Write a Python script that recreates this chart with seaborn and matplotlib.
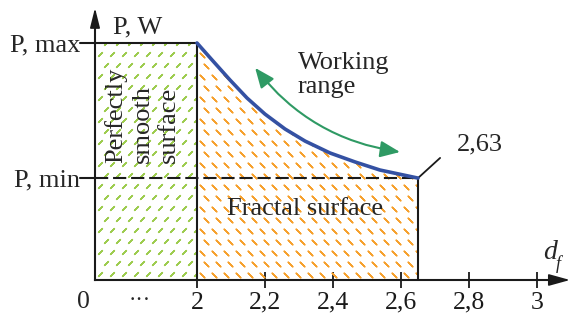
import matplotlib.pyplot as plt
import seaborn as sns
import numpy as np
from matplotlib.patches import Rectangle

# values (P normalised so that P max = 1)
df_curve = [2.000, 2.047, 2.097, 2.147, 2.200, 2.259, 2.318, 2.391, 2.465, 2.538, 2.650]
p_curve = [1.000, 0.924, 0.844, 0.768, 0.700, 0.637, 0.586, 0.536, 0.498, 0.464, 0.430]
p_max = 1.0
p_min = 0.43
df_origin = 1.7      # where the broken axis starts ("0 ... 2")
df_smooth = 2.0
df_limit = 2.65
tick_values = [2, 2.2, 2.4, 2.6, 2.8, 3]
tick_labels = ['2', '2,2', '2,4', '2,6', '2,8', '3']

sns.set_theme(style='white')
plt.rcParams['font.family'] = ['Liberation Serif', 'DejaVu Serif']
plt.rcParams['lines.scale_dashes'] = False

fig = plt.figure(figsize=(5.71, 3.15), dpi=100)
ax = fig.add_axes([0, 0, 1, 1])
ax.set_xlim(1.4206, 3.1)
ax.set_ylim(-0.1477, 1.1814)

# green dashed texture: perfectly smooth surface
green_region = Rectangle((df_origin, 0), df_smooth - df_origin, p_max,
                         fill=False, lw=0)
ax.add_patch(green_region)
gx, gy = np.meshgrid(np.arange(df_origin + 0.015, df_smooth, 0.0353),
                     np.arange(0.025, p_max, 0.0464))
gx[1::2] += 0.0176
green = ax.scatter(gx.ravel(), gy.ravel(), marker=(2, 2, -45), s=16,
                   linewidths=1.0, color='#9dcc4e', zorder=1)
green.set_clip_path(green_region)

# orange dashed texture: fractal surface (under the curve)
fill = ax.fill_between(df_curve, p_curve, 0, color='none', lw=0)
ox, oy = np.meshgrid(np.arange(df_smooth + 0.014, df_limit + 0.01, 0.0353),
                     np.arange(0.02, p_max, 0.0464))
ox[1::2] += 0.012
orange = ax.scatter(ox.ravel(), oy.ravel(), marker=(2, 2, 45), s=22,
                    linewidths=1.0, color='#f6a02c', zorder=1)
orange.set_clip_path(fill.get_paths()[0], ax.transData)

# outlines
ax.plot([1.656, df_smooth], [p_max, p_max], color='k', lw=1.5)
ax.plot([df_smooth, df_smooth], [0, p_max], color='k', lw=1.5)
ax.plot([df_limit, df_limit], [0, p_min], color='k', lw=1.5)
ax.plot([1.656, df_origin], [p_min, p_min], color='k', lw=1.5)
ax.plot([df_origin, df_limit], [p_min, p_min], color='k', lw=1.5,
        dashes=(9.5, 3.5))
ax.plot([df_limit, 2.715], [p_min, 0.515], color='k', lw=1.3)

# power curve
sns.lineplot(x=df_curve, y=p_curve, color='#3451a3', lw=2.6, sort=False,
             ax=ax, zorder=3, solid_joinstyle='round', solid_capstyle='round')

# axes with arrows
for s in ['top', 'right']:
    ax.spines[s].set_visible(False)
ax.spines['bottom'].set_position(('data', 0))
ax.spines['bottom'].set_bounds(df_origin, 3.05)
ax.spines['left'].set_position(('data', df_origin))
ax.spines['left'].set_bounds(0, 1.1)
for s in ['bottom', 'left']:
    ax.spines[s].set_color('k')
    ax.spines[s].set_linewidth(1.5)
ax.annotate('', xy=(3.097, 0), xytext=(3.0, 0),
            arrowprops=dict(arrowstyle='-|>,head_length=13,head_width=3.6',
                            mutation_scale=1, color='k', lw=1.2,
                            shrinkA=0, shrinkB=0))
ax.annotate('', xy=(df_origin, 1.148), xytext=(df_origin, 1.05),
            arrowprops=dict(arrowstyle='-|>,head_length=12,head_width=3',
                            mutation_scale=1, color='k', lw=1.2,
                            shrinkA=0, shrinkB=0))

ax.set_xticks(tick_values, tick_labels)
ax.set_yticks([])
ax.tick_params(axis='x', bottom=True, direction='inout', length=12.2,
               width=1.3, labelsize=18.5, pad=2.5, colors='k')

# working range double arrow
ax.annotate('', xy=(2.597, 0.540), xytext=(2.171, 0.895),
            arrowprops=dict(arrowstyle='<|-|>,head_length=12,head_width=5',
                            mutation_scale=1, color='#2f9a64', lw=1.5,
                            shrinkA=0, shrinkB=0,
                            connectionstyle='arc3,rad=0.2'))

# texts
fs = 19
ax.text(1.656, p_max, 'P, max', ha='right', va='center_baseline', fontsize=fs)
ax.text(1.656, p_min, 'P, min', ha='right', va='center_baseline', fontsize=fs)
ax.text(1.824, 1.0675, 'P, W', ha='center', va='center', fontsize=fs)
ax.text(1.665, -0.094, '0', ha='center', va='center', fontsize=18.5)
ax.text(1.83, -0.09, '···', ha='center', va='center', fontsize=16)
ax.text(3.038, 0.114, 'd', ha='center', va='center', fontsize=20,
        style='italic')
ax.text(3.063, 0.068, 'f', ha='center', va='center', fontsize=13,
        style='italic')
ax.text(2.297, 0.865, 'Working\nrange', ha='left', va='center', fontsize=fs,
        linespacing=1.15)
ax.text(2.318, 0.30, 'Fractal surface', ha='center', va='center', fontsize=fs)
ax.text(2.832, 0.574, '2,63', ha='center', va='center', fontsize=fs)
ax.text(1.838, 0.494, 'Perfectly\nsmooth\nsurface', rotation=90,
        ha='center', va='bottom', multialignment='left', fontsize=fs,
        linespacing=1.25)

fig.savefig('out.png', dpi=100)
